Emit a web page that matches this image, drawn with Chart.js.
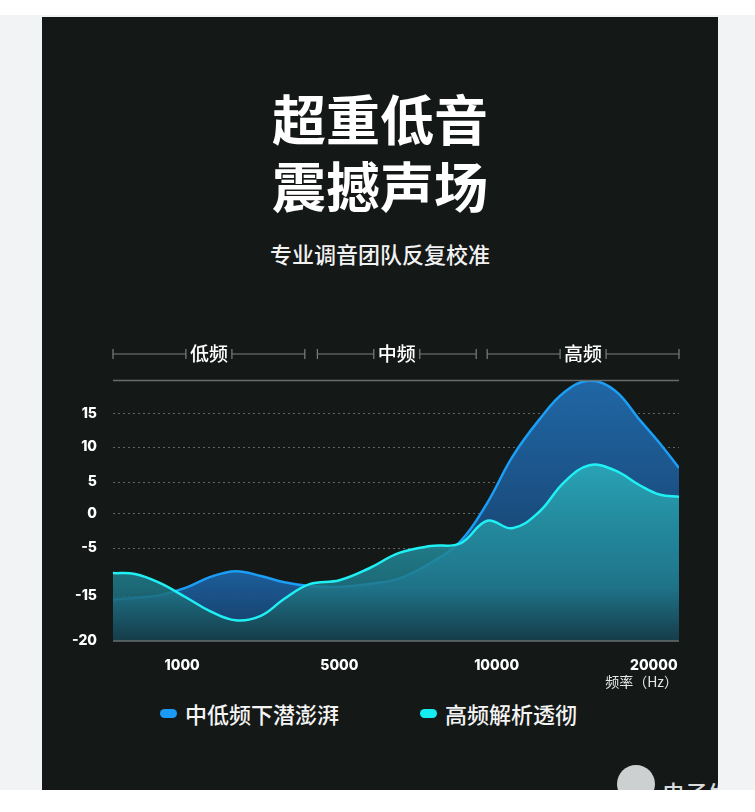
<!DOCTYPE html>
<html lang="zh">
<head>
<meta charset="utf-8">
<title>超重低音 震撼声场</title>
<script src="https://cdn.jsdelivr.net/npm/chart.js@4.4.0/dist/chart.umd.min.js"></script>
<style>
    html, body { margin: 0; padding: 0; }
    body {
        width: 755px; height: 812px; position: relative; overflow: hidden;
        background: #f1f3f4;
        font-family: "Noto Sans CJK SC", "Noto Sans", sans-serif;
    }
    .top-strip { position: absolute; left: 0; top: 0; width: 755px; height: 15px; background: #fff; }
    .bottom-strip { position: absolute; left: 0; top: 790px; width: 755px; height: 22px; background: #fff; }
    .panel { position: absolute; left: 42px; top: 17px; width: 676px; height: 773px; background: #141817; overflow: hidden; }
    .title {
        position: absolute; left: 42px; width: 676px; text-align: center;
        color: #fff; font-weight: 700; font-size: 54px; line-height: 66px;
    }
    .subtitle {
        position: absolute; left: 42px; width: 676px; top: 238px; text-align: center;
        color: #f2f2f2; font-size: 22px; line-height: 30px; font-weight: 500;
    }
    #chart { position: absolute; left: 42px; top: 330px; }
    .unit {
        position: absolute; right: 77px; top: 672px;
        color: #e8e8e8; font-size: 14px; line-height: 18px;
    }
    .legend-item {
        position: absolute; top: 698px; height: 30px;
        color: #f4f4f4; font-size: 22px; line-height: 30px; font-weight: 500;
    }
    .legend-item i {
        position: absolute; left: 0; top: 11px; width: 17px; height: 9px; border-radius: 5px;
    }
    .legend-item span { position: absolute; left: 25px; top: 0; white-space: nowrap; }
    .logo {
        position: absolute; left: 575px; top: 748px; width: 38px; height: 38px;
        border-radius: 50%; background: #cdd0d0;
    }
    .mark {
        position: absolute; left: 620px; top: 761px;
        color: #d9dcdc; font-size: 23px; line-height: 28px; white-space: nowrap; font-weight: 500;
    }
</style>
</head>
<body>
<div class="top-strip"></div>
<div class="panel"><div class="logo"></div><div class="mark">电子发烧友</div></div>
<div class="bottom-strip"></div>

<div class="title" style="top:85px">超重低音</div>
<div class="title" style="top:152px">震撼声场</div>
<div class="subtitle">专业调音团队反复校准</div>

<canvas id="chart" width="676" height="350"></canvas>

<div class="unit">频率（Hz）</div>
<div class="legend-item" style="left:160px"><i style="background:#1b9bf5"></i><span>中低频下潜澎湃</span></div>
<div class="legend-item" style="left:420px"><i style="background:#14eef2"></i><span>高频解析透彻</span></div>

<script>
// Frequency axis: tick labels sit on evenly spaced slots 0..3
const freqLabels = ['1000', '5000', '10000', '20000'];
const freqMin = -0.44;
const freqMax = 3.16;

// Band brackets above the plot (in slot units)
const bandNames = ['低频', '中频', '高频'];
const bandFrom = [-0.44, 0.86, 1.94];
const bandTo = [0.78, 1.87, 3.16];

// Level axis ticks (the axis is compressed below -5)
const levelTicks = [-20, -15, -5, 0, 5, 10, 15];
const levelMin = -20;
const levelMax = 20;

// Curve samples
const freqPos = [-0.44, -0.3, -0.14, 0.02, 0.18, 0.34, 0.5, 0.65, 0.81, 1.0, 1.19, 1.38,
    1.58, 1.77, 1.94, 2.1, 2.27, 2.43, 2.59, 2.75, 2.91, 3.04, 3.16];
const bassLevel = [-15.4, -15.2, -14.8, -13.3, -11.0, -9.8, -10.8, -12.1, -12.9, -13.1, -12.5, -11.3,
    -8.1, -4.0, 1.7, 8.6, 14.1, 18.2, 19.9, 18.5, 14.1, 10.5, 7.0];
const trebleLevel = [-10.2, -10.4, -12.3, -15.1, -16.7, -17.7, -17.2, -15.3, -12.5, -11.7, -9.2, -6.0,
    -4.7, -4.3, -1.0, -2.1, 0.3, 5.0, 7.4, 6.7, 4.5, 3.0, 2.7];

// Where each level stop sits along the axis height (0 = bottom, 1 = top)
const levelStops = [-20, -15, -5, 0, 5, 10, 15, 20];
const stopPlace = [0, 0.172, 0.356, 0.487, 0.609, 0.743, 0.870, 1];

function levelToDecimal(v) {
    let i = 1;
    while (i < levelStops.length - 1 && v > levelStops[i]) i++;
    const t = (v - levelStops[i - 1]) / (levelStops[i] - levelStops[i - 1]);
    return stopPlace[i - 1] + t * (stopPlace[i] - stopPlace[i - 1]);
}

function decimalToLevel(d) {
    let i = 1;
    while (i < stopPlace.length - 1 && d > stopPlace[i]) i++;
    const t = (d - stopPlace[i - 1]) / (stopPlace[i] - stopPlace[i - 1]);
    return levelStops[i - 1] + t * (levelStops[i] - levelStops[i - 1]);
}

// Piecewise linear scale
class BrokenScale extends Chart.LinearScale {
    getPixelForValue(value) {
        return value === null ? NaN : this.getPixelForDecimal(levelToDecimal(value));
    }
    getValueForPixel(pixel) {
        return decimalToLevel(this.getDecimalForPixel(pixel));
    }
}
BrokenScale.id = 'broken';
BrokenScale.defaults = Chart.LinearScale.defaults;
Chart.register(BrokenScale);

function toPoints(levels) {
    return levels.map((v, i) => ({ x: freqPos[i], y: v }));
}

function bassFill(c) {
    const { ctx, chartArea } = c.chart;
    if (!chartArea) return 'rgba(30,100,170,0.9)';
    const g = ctx.createLinearGradient(0, chartArea.top, 0, chartArea.bottom);
    g.addColorStop(0, 'rgba(33,106,172,0.96)');
    g.addColorStop(0.55, 'rgba(27,78,130,0.96)');
    g.addColorStop(0.72, 'rgba(30,98,164,0.96)');
    g.addColorStop(1, 'rgba(22,60,100,0.96)');
    return g;
}

function trebleFill(c) {
    const { ctx, chartArea } = c.chart;
    if (!chartArea) return 'rgba(40,170,185,0.85)';
    const g = ctx.createLinearGradient(0, chartArea.top, 0, chartArea.bottom);
    g.addColorStop(0, 'rgba(52,210,220,0.9)');
    g.addColorStop(0.35, 'rgba(42,170,184,0.88)');
    g.addColorStop(0.8, 'rgba(31,118,134,0.86)');
    g.addColorStop(1, 'rgba(22,60,70,0.9)');
    return g;
}

// Band brackets + top/bottom frame lines
const framePlugin = {
    id: 'frame',
    afterDatasetsDraw(chart) {
        const { ctx, chartArea } = chart;
        ctx.save();
        ctx.strokeStyle = '#676c6c';
        ctx.lineWidth = 1.5;
        ctx.beginPath();
        ctx.moveTo(chartArea.left, chartArea.top + 0.5);
        ctx.lineTo(chartArea.right, chartArea.top + 0.5);
        ctx.moveTo(chartArea.left, chartArea.bottom);
        ctx.lineTo(chartArea.right, chartArea.bottom);
        ctx.stroke();
        ctx.restore();
    },
    afterDraw(chart) {
        const { ctx, chartArea, scales } = chart;
        const y = chartArea.top - 26;
        ctx.save();
        ctx.font = '500 19px "Noto Sans CJK SC"';
        ctx.textAlign = 'center';
        ctx.textBaseline = 'middle';
        bandNames.forEach((name, i) => {
            const x0 = Math.max(scales.x.getPixelForValue(bandFrom[i]), chartArea.left);
            const x1 = Math.min(scales.x.getPixelForValue(bandTo[i]), chartArea.right);
            const cx = (x0 + x1) / 2;
            const half = ctx.measureText(name).width / 2 + 4;
            ctx.fillStyle = '#ffffff';
            ctx.fillText(name, cx, y);
            ctx.strokeStyle = '#7a7f7f';
            ctx.lineWidth = 1.2;
            [[x0, cx - half], [cx + half, x1]].forEach(([a, b]) => {
                ctx.beginPath();
                ctx.moveTo(a, y); ctx.lineTo(b, y);
                ctx.moveTo(a, y - 5); ctx.lineTo(a, y + 5);
                ctx.moveTo(b, y - 5); ctx.lineTo(b, y + 5);
                ctx.stroke();
            });
        });
        ctx.restore();
    }
};

Chart.defaults.font.family = '"Noto Sans CJK SC", sans-serif';

new Chart(document.getElementById('chart'), {
    type: 'line',
    data: {
        datasets: [{
            label: '中低频下潜澎湃',
            data: toPoints(bassLevel),
            borderColor: '#1b9ef5',
            borderWidth: 2.5,
            backgroundColor: bassFill,
            fill: 'start',
            pointRadius: 0,
            tension: 0.4,
            order: 2
        }, {
            label: '高频解析透彻',
            data: toPoints(trebleLevel),
            borderColor: '#1ff0f3',
            borderWidth: 2.5,
            backgroundColor: trebleFill,
            fill: 'start',
            pointRadius: 0,
            tension: 0.4,
            order: 1
        }]
    },
    options: {
        responsive: false,
        animation: false,
        devicePixelRatio: 1,
        layout: { padding: { top: 50, right: 39, left: 0, bottom: 0 } },
        plugins: { legend: { display: false }, tooltip: { enabled: false } },
        scales: {
            x: {
                type: 'linear',
                min: freqMin,
                max: freqMax,
                afterBuildTicks: s => { s.ticks = freqLabels.map((_, i) => ({ value: i })); },
                afterFit: s => { s.height = 39; },
                grid: { display: false, drawTicks: false },
                border: { display: false },
                ticks: {
                    color: '#ffffff',
                    padding: 16,
                    maxRotation: 0,
                    font: { family: 'Inter', size: 14, weight: '800' },
                    callback: v => freqLabels[v]
                }
            },
            y: {
                type: 'broken',
                min: levelMin,
                max: levelMax,
                z: 1,
                afterBuildTicks: s => { s.ticks = levelTicks.map(v => ({ value: v })); },
                afterFit: s => { s.width = 71; },
                grid: {
                    drawTicks: false,
                    lineWidth: 1,
                    color: c => c.tick && c.tick.value === levelMin ? 'rgba(0,0,0,0)' : 'rgba(190,195,195,0.45)'
                },
                border: { display: false, dash: [2, 3] },
                ticks: {
                    color: '#ffffff',
                    padding: 16,
                    font: { family: 'Inter', size: 14, weight: '800' },
                    callback: v => String(v)
                }
            }
        }
    },
    plugins: [framePlugin]
});
</script>
</body>
</html>
